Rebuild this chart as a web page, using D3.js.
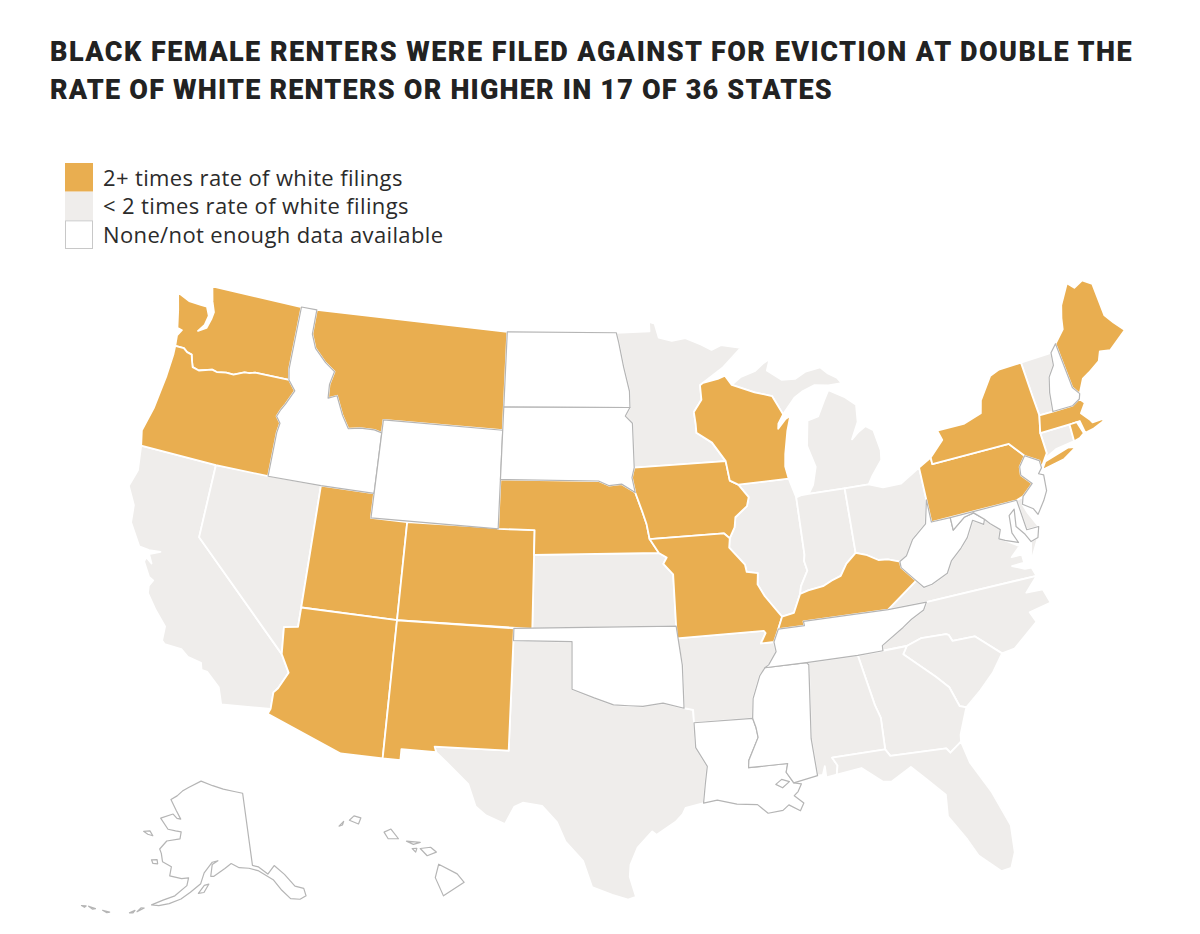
<!DOCTYPE html>
<html>
<head>
<meta charset="utf-8">
<script src="https://cdn.jsdelivr.net/npm/d3@7"></script>
<style>
    body { margin: 0; background: #fff; }
    svg { display: block; }
    .title { font-family: Roboto, sans-serif; font-weight: 900; font-size: 27px; fill: #222; }
    .legend-label { font-family: "Open Sans", sans-serif; font-size: 22px; letter-spacing: 0.37px; fill: #2b2b2b; }
</style>
</head>
<body>
<svg></svg>
<script>
const titleLines = [
    "BLACK FEMALE RENTERS WERE FILED AGAINST FOR EVICTION AT DOUBLE THE",
    "RATE OF WHITE RENTERS OR HIGHER IN 17 OF 36 STATES"
];
const legendLabels = ["2+ times rate of white filings", "< 2 times rate of white filings", "None/not enough data available"];

// which group each state falls in
const doubleStates = ["WA", "OR", "MT", "UT", "AZ", "CO", "NM", "NE", "IA", "MO", "WI", "KY", "PA", "NY", "MA", "RI", "ME"];
const underStates = ["CA", "NV", "TX", "KS", "AR", "MN", "MI", "IL", "IN", "OH", "VT", "CT", "DE", "VA", "NC", "SC", "GA", "AL", "FL"];
const noDataStates = ["ID", "WY", "ND", "SD", "OK", "LA", "MS", "TN", "WV", "NJ", "NH", "MD", "AK", "HI"];

// state outlines, lon/lat, simplified by hand
const WA = [[[-124.7,48.38],[-123.9,48.17],[-123.1,48.15],[-122.75,48.14],[-122.5,47.8],[-122.6,47.4],[-122.9,47.1],[-122.45,47.3],[-122.3,47.7],[-122.25,48.0],[-122.5,48.4],[-122.75,49.0],[-117.03,49.0],[-117.04,46.42],[-116.92,45.99],[-118.98,46.0],[-119.3,45.93],[-119.6,45.92],[-120.2,45.73],[-120.65,45.74],[-121.2,45.67],[-121.5,45.72],[-122.25,45.55],[-122.65,45.62],[-122.78,45.85],[-122.9,46.1],[-123.2,46.15],[-123.45,46.27],[-123.98,46.27],[-124.05,46.7],[-123.85,46.95],[-124.15,47.0],[-124.4,47.7]]];
const OR = [[[-124.5,42.6],[-124.3,42.0],[-120.0,42.0],[-117.03,42.0],[-117.03,43.8],[-116.95,44.2],[-117.22,44.45],[-117.05,44.75],[-116.85,45.0],[-116.46,45.6],[-116.92,45.99],[-118.98,46.0],[-119.3,45.93],[-119.6,45.92],[-120.2,45.73],[-120.65,45.74],[-121.2,45.67],[-121.5,45.72],[-122.25,45.55],[-122.65,45.62],[-122.78,45.85],[-122.9,46.1],[-123.2,46.15],[-123.45,46.27],[-123.98,46.27],[-123.95,45.9],[-124.0,45.0],[-124.1,44.3],[-124.2,43.6]]];
const CA = [[[-124.3,42.0],[-120.0,42.0],[-120.0,39.0],[-114.63,35.0],[-114.14,34.3],[-114.53,33.6],[-114.72,33.4],[-114.72,32.72],[-117.12,32.53],[-117.25,32.85],[-117.4,33.2],[-118.1,33.72],[-118.4,33.75],[-118.5,34.03],[-119.2,34.15],[-119.6,34.4],[-120.47,34.45],[-120.63,34.57],[-120.65,35.15],[-121.3,35.7],[-121.9,36.3],[-121.95,36.6],[-121.8,36.85],[-122.05,36.95],[-122.5,37.5],[-122.45,37.7],[-122.1,37.5],[-122.35,37.85],[-121.8,38.05],[-122.4,38.0],[-122.95,38.05],[-123.7,38.9],[-123.8,39.6],[-124.35,40.3],[-124.1,41.0]]];
const NV = [[[-120,42],[-114.04,42],[-114.04,36.2],[-114.75,36.1],[-114.63,35.0],[-120,39]]];
const ID = [[[-117.03,49],[-116.05,49],[-116.05,48.0],[-115.7,47.45],[-114.95,46.95],[-114.33,46.65],[-114.5,46.1],[-114.45,45.55],[-113.95,45.7],[-113.45,44.95],[-113.0,44.45],[-112.3,44.55],[-111.5,44.55],[-111.05,44.47],[-111.05,42.0],[-114.04,42],[-117.03,42],[-117.03,43.8],[-116.95,44.2],[-117.22,44.45],[-117.05,44.75],[-116.85,45.0],[-116.46,45.6],[-116.92,45.99],[-117.04,46.42]]];
const MT = [[[-116.05,49],[-104.05,49],[-104.05,45],[-111.05,45],[-111.05,44.47],[-111.5,44.55],[-112.3,44.55],[-113.0,44.45],[-113.45,44.95],[-113.95,45.7],[-114.45,45.55],[-114.5,46.1],[-114.33,46.65],[-114.95,46.95],[-115.7,47.45],[-116.05,48.0]]];
const WY = [[[-111.05,45],[-104.05,45],[-104.05,41],[-111.05,41]]];
const UT = [[[-114.04,42],[-111.05,42],[-111.05,41],[-109.05,41],[-109.05,37],[-114.04,37]]];
const AZ = [[[-114.04,37],[-109.05,37],[-109.05,31.33],[-111.07,31.33],[-114.82,32.5],[-114.72,32.72],[-114.72,33.4],[-114.53,33.6],[-114.14,34.3],[-114.63,35.0],[-114.75,36.1],[-114.04,36.2]]];
const CO = [[[-109.05,41],[-102.05,41],[-102.05,37],[-109.05,37]]];
const NM = [[[-109.05,37],[-103.0,37],[-103.05,32],[-106.62,32],[-106.53,31.78],[-108.2,31.78],[-108.2,31.33],[-109.05,31.33]]];
const ND = [[[-104.05,49],[-97.23,49],[-97.1,48.6],[-96.85,47.6],[-96.55,46.6],[-96.56,45.94],[-104.05,45.94]]];
const SD = [[[-104.05,45.94],[-96.56,45.94],[-96.85,45.6],[-96.45,45.3],[-96.45,43.5],[-96.6,43.1],[-96.45,42.49],[-97.2,42.85],[-97.9,42.8],[-98.5,43.0],[-104.05,43]]];
const NE = [[[-104.05,43],[-98.5,43],[-97.9,42.8],[-97.2,42.85],[-96.45,42.49],[-96.1,41.7],[-95.9,41.2],[-95.77,40.58],[-95.31,40.0],[-102.05,40],[-102.05,41],[-104.05,41]]];
const KS = [[[-102.05,40],[-95.31,40],[-94.9,39.8],[-95.1,39.55],[-94.61,39.1],[-94.62,37],[-102.05,37]]];
const OK = [[[-103,37],[-94.62,37],[-94.43,35.4],[-94.48,33.64],[-95.5,33.9],[-96.5,33.8],[-97.2,33.85],[-97.95,33.9],[-98.9,34.2],[-100,34.56],[-100,36.5],[-103,36.5]]];
const TX = [[[-106.62,32],[-103.05,32],[-103,36.5],[-100,36.5],[-100,34.56],[-98.9,34.2],[-97.95,33.9],[-97.2,33.85],[-96.5,33.8],[-95.5,33.9],[-94.48,33.64],[-94.04,33.55],[-94.04,33.02],[-94.04,32],[-93.55,31.2],[-93.7,30.5],[-93.85,29.7],[-94.7,29.55],[-94.85,29.3],[-95.2,29.0],[-96.1,28.5],[-96.3,28.65],[-97.0,28.0],[-97.35,27.3],[-97.4,26.8],[-97.15,25.96],[-97.5,25.85],[-98.2,26.06],[-99.1,26.4],[-99.5,27.5],[-100.3,28.3],[-100.7,29.1],[-101.4,29.77],[-102.3,29.88],[-102.7,29.7],[-103.1,28.98],[-104.0,29.3],[-104.5,29.65],[-104.9,30.55],[-106.0,31.4],[-106.53,31.78]]];
const MN = [[[-97.23,49],[-95.15,49],[-95.15,49.38],[-94.8,49.3],[-94.6,48.72],[-93.8,48.55],[-92.95,48.62],[-92.0,48.3],[-91.4,48.05],[-90.8,48.2],[-89.6,48.0],[-90.8,47.3],[-92.1,46.75],[-92.3,46.66],[-92.29,46.07],[-92.8,45.6],[-92.75,45.1],[-92.75,44.75],[-91.9,44.3],[-91.22,43.5],[-96.45,43.5],[-96.45,45.3],[-96.85,45.6],[-96.56,45.94],[-96.55,46.6],[-96.85,47.6],[-97.1,48.6]]];
const IA = [[[-96.45,43.5],[-91.22,43.5],[-91.1,42.7],[-90.65,42.5],[-90.15,41.95],[-90.3,41.6],[-91.0,41.2],[-91.1,40.8],[-91.42,40.38],[-91.72,40.6],[-95.77,40.58],[-95.9,41.2],[-96.1,41.7],[-96.45,42.49],[-96.6,43.1]]];
const MO = [[[-95.77,40.58],[-91.72,40.6],[-91.42,40.38],[-91.5,40.0],[-90.75,39.25],[-90.7,38.95],[-90.12,38.85],[-90.2,38.4],[-89.9,37.9],[-89.4,37.3],[-89.13,36.98],[-89.4,36.5],[-89.7,36.0],[-90.37,36.0],[-90.07,36.4],[-90.15,36.5],[-94.62,36.5],[-94.62,37],[-94.61,39.1],[-95.1,39.55],[-94.9,39.8],[-95.31,40]]];
const AR = [[[-94.62,36.5],[-90.15,36.5],[-90.07,36.4],[-90.37,36],[-89.7,36],[-89.65,35.6],[-90.1,35.1],[-90.6,34.7],[-91.05,33.8],[-91.17,33.0],[-94.04,33.02],[-94.04,33.55],[-94.48,33.64],[-94.43,35.4]]];
const LA = [[[-94.04,33.02],[-91.17,33.0],[-91.05,32.6],[-91.0,32.2],[-91.55,31.3],[-91.6,31.0],[-89.73,31.0],[-89.85,30.65],[-89.55,30.18],[-89.2,30.1],[-89.4,29.8],[-89.6,29.65],[-89.2,29.3],[-89.4,29.0],[-89.9,29.3],[-90.2,29.1],[-90.9,29.05],[-91.35,29.45],[-91.85,29.5],[-92.3,29.55],[-93.2,29.78],[-93.85,29.7],[-93.7,30.5],[-93.55,31.2],[-94.04,32]],
    [[-90.4,30.2],[-90.1,30.38],[-89.75,30.25],[-90.1,30.03]]];
const MS = [[[-90.3,35],[-88.2,35],[-88.1,34.9],[-88.47,31.9],[-88.4,30.35],[-89.55,30.18],[-89.85,30.65],[-89.73,31],[-91.6,31],[-91.55,31.3],[-91,32.2],[-91.05,32.6],[-91.17,33],[-91.05,33.8],[-90.6,34.7]]];
const AL = [[[-88.2,35],[-85.6,34.98],[-85.18,32.87],[-85.0,32.3],[-85.05,31.0],[-87.6,31],[-87.4,30.65],[-87.5,30.28],[-88.0,30.23],[-88.0,30.7],[-88.15,30.35],[-88.4,30.35],[-88.47,31.9],[-88.1,34.9]]];
const TN = [[[-90.3,35],[-90.1,35.1],[-89.65,35.6],[-89.7,36],[-89.4,36.5],[-88.05,36.5],[-88.07,36.68],[-83.68,36.6],[-81.68,36.59],[-81.9,36.3],[-82.6,36.03],[-83.1,35.77],[-84.3,35.2],[-84.32,34.99],[-85.6,34.98],[-88.2,35]]];
const KY = [[[-89.4,36.5],[-89.13,36.98],[-88.5,37.07],[-88.05,37.8],[-87.6,37.9],[-86.8,37.98],[-86.3,38.15],[-85.8,38.28],[-85.4,38.73],[-84.82,39.1],[-84.3,38.95],[-83.7,38.65],[-83.2,38.6],[-82.6,38.42],[-82.6,38.17],[-81.97,37.53],[-83.68,36.6],[-88.07,36.68],[-88.05,36.5]]];
const IL = [[[-91.42,40.38],[-91.1,40.8],[-91,41.2],[-90.3,41.6],[-90.15,41.95],[-90.65,42.5],[-87.8,42.49],[-87.53,41.7],[-87.53,39.35],[-87.6,39.1],[-87.5,38.7],[-87.95,38.1],[-88.05,37.8],[-88.5,37.07],[-89.13,36.98],[-89.4,37.3],[-89.9,37.9],[-90.2,38.4],[-90.12,38.85],[-90.7,38.95],[-90.75,39.25],[-91.5,40]]];
const WI = [[[-92.1,46.75],[-91.2,46.85],[-90.75,46.95],[-90.4,46.55],[-89.1,46.14],[-88.1,45.9],[-87.6,45.1],[-87.95,44.75],[-88.0,44.55],[-87.5,44.9],[-87.2,45.0],[-87.5,44.4],[-87.8,43.5],[-87.9,43.0],[-87.8,42.49],[-90.65,42.5],[-91.1,42.7],[-91.22,43.5],[-91.9,44.3],[-92.75,44.75],[-92.75,45.1],[-92.8,45.6],[-92.29,46.07],[-92.3,46.66]]];
const MI = [[[-90.4,46.55],[-89.8,46.83],[-88.9,47.0],[-88.4,47.25],[-87.95,47.4],[-88.2,46.95],[-87.4,46.5],[-86.6,46.45],[-85.9,46.68],[-85.0,46.75],[-84.6,46.45],[-84.1,46.2],[-83.9,45.97],[-84.7,45.97],[-85.5,46.08],[-86.3,45.9],[-86.8,45.7],[-87.6,45.1],[-88.1,45.9],[-89.1,46.14]],
    [[-86.82,41.76],[-84.8,41.75],[-83.45,41.73],[-83.15,42.05],[-82.5,42.6],[-82.42,43.0],[-82.6,43.85],[-83.0,44.07],[-83.45,43.9],[-83.9,43.65],[-83.4,44.3],[-83.3,45.0],[-83.9,45.4],[-84.75,45.78],[-85.1,45.4],[-85.6,44.8],[-86.25,44.7],[-86.5,43.7],[-86.2,42.8],[-86.5,42.1]]];
const IN = [[[-87.53,41.7],[-87.2,41.76],[-86.82,41.76],[-84.8,41.75],[-84.82,39.1],[-85.4,38.73],[-85.8,38.28],[-86.3,38.15],[-86.8,37.98],[-87.6,37.9],[-88.05,37.8],[-87.95,38.1],[-87.5,38.7],[-87.6,39.1],[-87.53,39.35]]];
const OH = [[[-84.8,41.75],[-83.45,41.73],[-82.7,41.5],[-81.7,41.5],[-80.52,41.98],[-80.52,40.64],[-80.85,39.7],[-81.7,39.2],[-82.2,38.6],[-82.6,38.42],[-83.2,38.6],[-83.7,38.65],[-84.3,38.95],[-84.82,39.1]]];
const PA = [[[-80.52,41.98],[-79.76,42.27],[-79.76,42.0],[-75.35,42.0],[-74.7,41.36],[-75.13,40.99],[-75.2,40.65],[-74.73,40.2],[-75.4,39.8],[-75.79,39.72],[-80.52,39.72]]];
const NY = [[[-79.76,42.0],[-79.76,42.27],[-78.9,42.85],[-79.05,43.27],[-77.5,43.27],[-76.4,43.5],[-76.2,44.0],[-75.3,44.85],[-74.7,45.0],[-73.35,45.01],[-73.3,43.6],[-73.25,42.75],[-73.5,42.05],[-73.49,41.2],[-73.7,41.0],[-74.0,40.7],[-74.0,41.0],[-74.7,41.36],[-75.35,42]],
    [[-74.0,40.6],[-73.7,40.9],[-72.3,41.15],[-71.87,41.07],[-72.7,40.75]]];
const VT = [[[-73.35,45.01],[-71.5,45.01],[-71.6,44.5],[-72.05,44.1],[-72.3,43.5],[-72.46,42.73],[-73.25,42.75],[-73.3,43.6]]];
const NH = [[[-71.5,45.01],[-71.08,45.3],[-70.98,43.4],[-70.7,43.07],[-70.82,42.87],[-71.3,42.7],[-72.46,42.73],[-72.3,43.5],[-72.05,44.1],[-71.6,44.5]]];
const ME = [[[-71.08,45.3],[-70.4,45.75],[-70.25,46.2],[-70.0,46.7],[-69.23,47.46],[-68.9,47.18],[-68.3,47.35],[-67.8,47.07],[-67.8,45.7],[-67.45,45.3],[-67.0,44.85],[-68.2,44.3],[-68.8,44.4],[-69.05,44.05],[-69.8,43.75],[-70.25,43.6],[-70.7,43.07],[-70.98,43.4]]];
const MA = [[[-73.5,42.05],[-73.25,42.75],[-72.46,42.73],[-71.3,42.7],[-70.82,42.87],[-70.6,42.65],[-71.0,42.3],[-70.65,41.95],[-70.55,41.8],[-70.0,41.8],[-70.05,42.05],[-69.95,41.7],[-70.6,41.55],[-71.12,41.5],[-71.2,42.02],[-71.8,42.02]]];
const CT = [[[-73.5,42.05],[-71.8,42.02],[-71.85,41.32],[-72.9,41.25],[-73.7,41.0],[-73.49,41.2]]];
const RI = [[[-71.8,42.02],[-71.38,42.02],[-71.2,41.5],[-71.5,41.37],[-71.85,41.32]]];
const NJ = [[[-74.7,41.36],[-74.0,41.0],[-74.0,40.7],[-74.25,40.5],[-74.0,40.4],[-74.1,39.75],[-74.4,39.4],[-74.9,38.93],[-75.05,39.2],[-75.55,39.5],[-75.4,39.8],[-74.73,40.2],[-75.2,40.65],[-75.13,40.99]]];
const DE = [[[-75.79,39.72],[-75.4,39.8],[-75.55,39.5],[-75.4,39.1],[-75.05,38.45],[-75.7,38.46]]];
const MD = [[[-79.48,39.72],[-75.79,39.72],[-75.7,38.46],[-75.05,38.45],[-75.25,38.03],[-75.65,37.95],[-75.85,38.3],[-76.2,38.7],[-76.05,39.4],[-76.4,39.2],[-76.5,38.5],[-76.3,38.05],[-76.95,38.28],[-77.25,38.4],[-77.05,38.75],[-77.5,39.1],[-77.72,39.32],[-78.2,39.68],[-78.75,39.6],[-79.48,39.2]]];
const VA = [[[-83.68,36.6],[-81.97,37.53],[-81.65,37.2],[-81.2,37.25],[-80.3,37.55],[-79.95,38.0],[-79.3,38.42],[-78.85,38.77],[-78.35,39.4],[-77.83,39.13],[-77.72,39.32],[-77.5,39.1],[-77.05,38.75],[-77.25,38.4],[-76.95,38.28],[-76.3,37.9],[-76.85,37.55],[-76.3,37.55],[-76.3,37.2],[-76.95,37.2],[-76.35,36.95],[-76.0,36.93],[-75.87,36.55],[-81.68,36.59]],
    [[-75.95,37.15],[-75.25,38.03],[-75.65,37.95]]];
const WV = [[[-82.6,38.17],[-82.6,38.42],[-82.2,38.6],[-81.7,39.2],[-80.85,39.7],[-80.52,40.64],[-80.52,39.72],[-79.48,39.72],[-79.48,39.2],[-78.75,39.6],[-78.2,39.68],[-77.72,39.32],[-77.83,39.13],[-78.35,39.4],[-78.85,38.77],[-79.3,38.42],[-79.95,38.0],[-80.3,37.55],[-81.2,37.25],[-81.65,37.2],[-81.97,37.53]]];
const NC = [[[-84.32,34.99],[-84.3,35.2],[-83.1,35.77],[-82.6,36.03],[-81.9,36.3],[-81.68,36.59],[-75.87,36.55],[-76.6,36.0],[-75.75,35.95],[-75.55,35.35],[-76.7,35.2],[-76.5,34.75],[-77.9,33.92],[-78.55,33.86],[-79.67,34.8],[-80.8,34.82],[-80.93,35.1],[-81.05,35.15],[-82.3,35.2],[-83.1,35.0]]];
const SC = [[[-83.1,35.0],[-82.3,35.2],[-81.05,35.15],[-80.93,35.1],[-80.8,34.82],[-79.67,34.8],[-78.55,33.86],[-79.2,33.2],[-80.0,32.6],[-80.85,32.05],[-81.15,32.15],[-81.45,33.0],[-82.0,33.55],[-83.35,34.7]]];
const GA = [[[-85.6,34.98],[-84.32,34.99],[-83.1,35.0],[-83.35,34.7],[-82.0,33.55],[-81.45,33.0],[-81.15,32.15],[-80.85,32.05],[-81.4,31.0],[-81.45,30.72],[-82.05,30.36],[-82.2,30.57],[-84.86,30.7],[-85.05,31],[-85,32.3],[-85.18,32.87]]];
const FL = [[[-87.6,31],[-85.05,31],[-84.86,30.7],[-82.2,30.57],[-82.05,30.36],[-81.45,30.72],[-81.25,29.8],[-80.55,28.4],[-80.05,26.9],[-80.15,25.75],[-80.45,25.15],[-80.9,25.1],[-81.75,25.95],[-82.1,26.7],[-82.75,27.8],[-82.65,28.7],[-83.4,29.5],[-84.0,30.1],[-85.0,29.65],[-85.4,29.7],[-86.3,30.4],[-87.5,30.28],[-87.4,30.65]]];
const AK = [[[-141,69.65],[-141,60.3],[-139.5,60.0],[-137.5,58.9],[-135.5,59.8],[-133.5,58.4],[-131.8,56.6],[-130.0,56.0],[-130.0,55.0],[-131.5,54.8],[-133.5,55.2],[-135,56.5],[-136.4,58.0],[-139.8,59.55],[-142,60.0],[-144.5,60.2],[-146.5,60.8],[-148.2,60.2],[-151.0,59.2],[-151.8,59.2],[-151.5,60.7],[-150.0,61.2],[-151.5,61.0],[-153.5,59.6],[-154.2,58.2],[-156.5,57.0],[-158.5,56.0],[-161,55.2],[-163.2,54.7],[-164.8,54.6],[-162.5,55.5],[-160,56.3],[-157.5,57.8],[-157.3,58.8],[-159,58.6],[-162,58.7],[-162,59.9],[-164.5,60.3],[-165.3,61.3],[-166,61.8],[-164.6,63.0],[-161,63.6],[-161,64.5],[-162.7,64.5],[-165,64.5],[-168,65.65],[-164.5,66.55],[-163,66.1],[-161.8,66.1],[-163.8,67.1],[-166.3,68.3],[-164.5,68.95],[-163,69.7],[-161,70.3],[-156.6,71.35],[-152,70.85],[-148,70.4],[-144,70.0]],
    [[-154.6,56.95],[-153.3,58.0],[-152.2,58.2],[-153.3,57.1]],
    [[-171.7,63.4],[-170,63.7],[-168.8,63.2],[-170.3,63.2]],
    [[-167.4,60.2],[-166,60.4],[-165.6,59.9],[-166.8,59.8]],
    [[-166.9,53.9],[-166.2,54.0],[-167.5,53.3]],
    [[-169,52.9],[-168,53.4],[-168.3,53.0]],
    [[-174.5,52.1],[-173,52.2],[-173.5,52.0]],
    [[-177.5,51.9],[-176,51.95],[-176.5,51.75]],
    [[-178.9,51.6],[-178,51.8],[-178.2,51.55]]];
const HI = [[[-155.9,20.25],[-155.1,19.85],[-154.8,19.5],[-155.7,18.95],[-156.05,19.7]],
    [[-156.7,20.9],[-156.25,20.95],[-156.0,20.75],[-156.4,20.6]],
    [[-158.28,21.57],[-157.98,21.7],[-157.65,21.3],[-158.1,21.3]],
    [[-159.8,22.05],[-159.6,22.23],[-159.3,22.15],[-159.4,21.9]],
    [[-157.3,21.2],[-156.7,21.15],[-157.0,21.07]],
    [[-157.05,20.9],[-156.85,20.9],[-156.9,20.75]],
    [[-160.25,21.8],[-160.05,22.0],[-160.1,21.85]]];

const shapes = { WA, OR, CA, NV, ID, MT, WY, UT, AZ, CO, NM, ND, SD, NE, KS, OK, TX, MN, IA, MO, AR, LA, MS, AL, TN, KY, IL, WI, MI, IN, OH, PA, NY, VT, NH, ME, MA, CT, RI, NJ, DE, MD, VA, WV, NC, SC, GA, FL, AK, HI };

const svgWidth = 1200, svgHeight = 934;
const svg = d3.select("svg").attr("width", svgWidth).attr("height", svgHeight);

svg.selectAll(".title")
    .data(titleLines)
    .join("text")
    .attr("class", "title")
    .attr("x", 50)
    .attr("y", (d, i) => 61 + i * 38)
    .attr("letter-spacing", (d, i) => i === 0 ? 1.47 : 1.21)
    .text(d => d);

const color = d3.scaleOrdinal()
    .domain(legendLabels)
    .range(["#e9ae50", "#efedeb", "#ffffff"]);

const legendY = d3.scaleBand().domain(legendLabels).range([163, 249]);

const legend = svg.append("g");
legend.selectAll("rect")
    .data(legendLabels)
    .join("rect")
    .attr("x", 65)
    .attr("y", d => legendY(d))
    .attr("width", 28)
    .attr("height", legendY.bandwidth())
    .attr("fill", d => color(d));
legend.append("rect")
    .attr("x", 65.5)
    .attr("y", legendY(legendLabels[2]) + 0.5)
    .attr("width", 27)
    .attr("height", legendY.bandwidth() - 1)
    .attr("fill", "#fff")
    .attr("stroke", "#c8c8c8");
legend.selectAll("text")
    .data(legendLabels)
    .join("text")
    .attr("class", "legend-label")
    .attr("x", 103)
    .attr("y", d => legendY(d) + 22.5)
    .text(d => d);

// the picture is centred further west than geoAlbersUsa, so the three parts are set up by hand
const lower48 = d3.geoConicEqualArea().parallels([33, 50]).rotate([100, 0]).center([0, 39]).scale(1400).translate([572, 580]);
const alaska = d3.geoConicEqualArea().parallels([55, 65]).rotate([150, 0]).center([9, 65]).scale(447).translate([247.5, 829]);
const hawaii = d3.geoConicEqualArea().parallels([8, 18]).rotate([157, 0]).center([1.5, 19.6]).scale(1400).translate([448, 880]);

function projectionFor(code) {
    if (code === "AK") return alaska;
    if (code === "HI") return hawaii;
    return lower48;
}

// d3 needs rings the small way round, so flip any that came out huge
function feature(code) {
    return { type: "Feature", properties: { code }, geometry: { type: "MultiPolygon", coordinates: shapes[code].map(r => {
        const ring = r.concat([r[0]]);
        return [d3.geoArea({ type: "Polygon", coordinates: [ring] }) > 2 * Math.PI ? ring.slice().reverse() : ring];
    }) } };
}

const map = svg.append("g");

function drawGroup(codes, fill, stroke, width) {
    map.append("g")
        .selectAll("path")
        .data(codes.map(feature))
        .join("path")
        .attr("d", d => d3.geoPath(projectionFor(d.properties.code))(d))
        .attr("fill", fill)
        .attr("stroke", stroke)
        .attr("stroke-width", width)
        .attr("stroke-linejoin", "round");
}

drawGroup(underStates, color(legendLabels[1]), "#fff", 1.8);
drawGroup(doubleStates, color(legendLabels[0]), "#fff", 1.8);
drawGroup(noDataStates, color(legendLabels[2]), "#b5b5b5", 1.2);
</script>
</body>
</html>
